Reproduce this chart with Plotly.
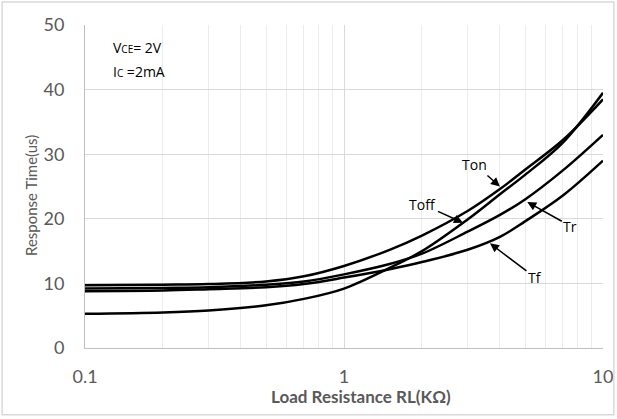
import plotly.graph_objects as go
import numpy as np

rl = [0.1, 0.2, 0.3, 0.5, 0.7, 1, 1.5, 2, 3, 4, 5, 7, 10]
ton = [9.7, 9.8, 9.9, 10.3, 11.1, 12.7, 15.2, 17.4, 21.2, 24.6, 27.6, 32.2, 38.5]
toff = [5.3, 5.5, 5.8, 6.6, 7.6, 9.2, 12.4, 15.0, 19.9, 23.8, 26.8, 31.8, 39.5]
tr = [9.2, 9.3, 9.4, 9.8, 10.3, 11.4, 13.0, 14.6, 18.0, 20.6, 23.0, 27.5, 33.0]
tf = [8.8, 8.9, 9.1, 9.4, 9.9, 10.9, 12.2, 13.3, 15.2, 17.2, 19.6, 23.6, 29.0]
minor_vals = [0.2, 0.3, 0.4, 0.5, 0.6, 0.7, 0.8, 0.9, 2, 3, 4, 5, 6, 7, 8, 9]

series = [("Ton", ton), ("Toff", toff), ("Tr", tr), ("Tf", tf)]

fig = go.Figure()
for name, vals in series:
    fig.add_trace(go.Scatter(x=rl, y=vals, mode="lines", name=name,
                             line=dict(color="black", width=2.5, shape="spline", smoothing=1.0)))

gray = "#595959"
fig.update_layout(
    width=617, height=419,
    margin=dict(l=85, r=14, t=25, b=71),
    paper_bgcolor="white", plot_bgcolor="white",
    showlegend=False,
    font=dict(family="Lato, Open Sans, sans-serif", color=gray),
    xaxis=dict(type="log", range=[-1, 1], showgrid=True, gridcolor="#d9d9d9", gridwidth=1,
               minor=dict(showgrid=True, gridcolor="#ececec", gridwidth=1, tickvals=minor_vals),
               tickvals=[0.1, 1, 10], ticktext=["0.1", "1", "10"], automargin=False,
               tickfont=dict(size=18, color=gray), ticks="", showline=True, linecolor="#bfbfbf",
               zeroline=False, ticklabelstandoff=12),
    yaxis=dict(range=[0, 50], tickvals=[0, 10, 20, 30, 40, 50], showgrid=True, gridcolor="#d9d9d9",
               tickfont=dict(size=18, color=gray), ticks="", showline=True, linecolor="#bfbfbf",
               zeroline=False, ticklabelstandoff=16, automargin=False),
)

# axis titles
fig.add_annotation(xref="paper", yref="paper", x=(361 - 85) / 518, y=(348 - 396) / 323,
                   xanchor="center", yanchor="middle", showarrow=False,
                   text="<b>Load Resistance RL(KΩ)</b>", font=dict(size=17, color=gray))
fig.add_annotation(xref="paper", yref="paper", x=(31 - 85) / 518, y=(348 - 196) / 323,
                   xanchor="center", yanchor="middle", showarrow=False, textangle=-90,
                   text="Response Time(us)", font=dict(size=15, color=gray))

fig.add_annotation(xref="paper", yref="paper", x=0.05, y=0.93, xanchor="left", yanchor="middle",
                   text="V<span style='font-size:10px'>CE</span>= 2V", showarrow=False,
                   font=dict(size=14, color="black", family="Open Sans, sans-serif"))
fig.add_annotation(xref="paper", yref="paper", x=0.05, y=0.855, xanchor="left", yanchor="middle",
                   text="I<span style='font-size:10px'>C</span> =2mA", showarrow=False,
                   font=dict(size=14, color="black", family="Open Sans, sans-serif"))

labels = [("Ton", 4.0, 25.0, -25, -22), ("Toff", 2.88, 19.4, -40, -18),
          ("Tr", 5.1, 22.6, 43, 24), ("Tf", 3.66, 16.2, 45, 34)]
for txt, xv, yv, ax, ay in labels:
    fig.add_annotation(x=np.log10(xv), y=yv, text=txt, showarrow=True, ax=ax, ay=ay,
                       arrowhead=2, arrowsize=1.2, arrowwidth=1.5, arrowcolor="black",
                       font=dict(size=14, color="black", family="Open Sans, sans-serif"))

fig.add_shape(type="rect", xref="paper", yref="paper", x0=-0.160, x1=1.021, y0=-0.207, y1=1.071,
              line=dict(color="#d9d9d9", width=1.5))

fig.write_html("out.html", config={"displayModeBar": False},
               post_script="document.body.style.margin='0';document.body.style.overflow='hidden';")
